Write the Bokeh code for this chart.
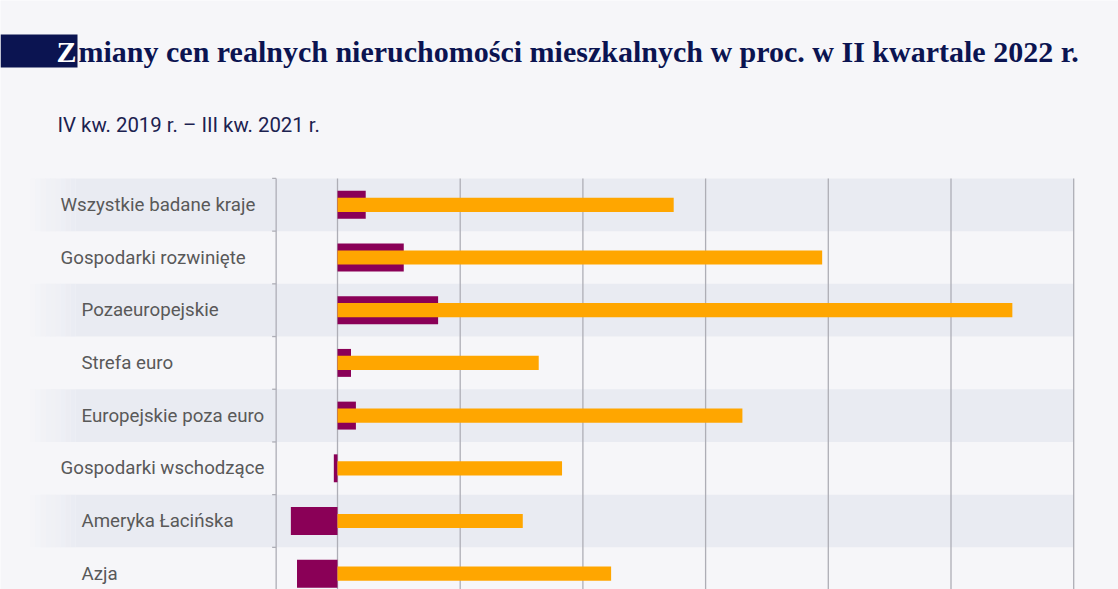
from bokeh.plotting import figure
from bokeh.models import Range1d, ColumnDataSource
from bokeh.core.properties import value
from bokeh.embed import file_html
from bokeh.resources import INLINE

# ---- data ----
categories = [
    "Wszystkie badane kraje",
    "Gospodarki rozwinięte",
    "Pozaeuropejskie",
    "Strefa euro",
    "Europejskie poza euro",
    "Gospodarki wschodzące",
    "Ameryka Łacińska",
    "Azja",
]
indented = [False, False, True, True, True, False, True, True]
q2_2022 = [2.3, 5.4, 8.2, 1.1, 1.5, -0.3, -3.8, -3.3]
q4_2019_q3_2021 = [27.4, 39.5, 55.0, 16.4, 33.0, 18.3, 15.1, 22.3]
grid_ticks = [0, 10, 20, 30, 40, 50, 60]
axis_start = -5
title_first = "Z"
title_rest = "miany cen realnych nieruchomości mieszkalnych w proc. w II kwartale 2022 r."
subtitle = "IV kw. 2019 r. – III kw. 2021 r."

# ---- layout helpers (pixel -> data) ----
W, H = 1118, 589
X0, XS = 337.0, 12.27      # px of zero, px per percent point
Y0, YS = 204.3, 52.7       # px of first row centre, px per row

def px2x(px):
    return (px - X0) / XS

def px2y(py):
    return (py - Y0) / YS

BG = "#f6f6f9"
BAND = "#e9ebf2"
NAVY = "#0b1451"
GRID = "#aeaeb6"
PURPLE = "#8a0057"
ORANGE = "#ffa600"

p = figure(width=W, height=H, output_backend="svg", toolbar_location=None,
           x_range=Range1d(px2x(0), px2x(W)), y_range=Range1d(px2y(H), px2y(0)),
           min_border=0, min_border_left=0, min_border_right=0,
           min_border_top=0, min_border_bottom=0)
p.axis.visible = False
p.grid.visible = False
p.outline_line_color = None
p.background_fill_color = BG
p.border_fill_color = BG

n = len(categories)
rows = list(range(n))
band_rows = [i for i in rows if i % 2 == 0]
x_right = grid_ticks[-1]

# bands (main part)
p.hbar(y=band_rows, left=px2x(75), right=x_right, height=1.0,
       fill_color=BAND, line_color=None)
# soft fade at the left edge of bands
steps = 9
for k in range(steps):
    a = (k + 0.5) / steps
    l = px2x(30 + k * 5)
    r = px2x(30 + (k + 1) * 5)
    p.hbar(y=band_rows, left=l, right=r, height=1.0,
           fill_color=BAND, fill_alpha=a, line_color=None)

top = -0.5
bottom = px2y(H)

# gridlines
p.segment(x0=grid_ticks, x1=grid_ticks, y0=[top] * len(grid_ticks),
          y1=[bottom] * len(grid_ticks), line_color=GRID, line_width=1.3)

# axis line with ticks at row boundaries
p.segment(x0=[axis_start], x1=[axis_start], y0=[top], y1=[bottom],
          line_color=GRID, line_width=1.3)
bounds = [i - 0.5 for i in rows]
p.segment(x0=[axis_start] * n, x1=[axis_start - 4 / XS] * n, y0=bounds, y1=bounds,
          line_color=GRID, line_width=1.3)

# bars
src = ColumnDataSource(dict(y=rows, a=q2_2022, b=q4_2019_q3_2021))
p.hbar(y="y", left=0, right="a", height=0.53, source=src,
       fill_color=PURPLE, line_color=None)
p.hbar(y="y", left=0, right="b", height=0.27, source=src,
       fill_color=ORANGE, line_color=None)

# category labels
lab_x = [px2x(81) if ind else px2x(60) for ind in indented]
p.text(x=lab_x, y=rows, text=categories, text_font=value("Roboto"),
       text_font_size="18.7px", text_color="#595959", text_baseline="middle",
       text_align="left")

# title box
p.quad(left=[px2x(0)], right=[px2x(77)], top=[px2y(34)], bottom=[px2y(67)],
       fill_color=NAVY, line_color=None)
p.text(x=[px2x(56)], y=[px2y(50.5)], text=[title_first],
       text_font=value("Liberation Serif"), text_font_style="bold",
       text_font_size="30px", text_color="white", text_baseline="alphabetic")
p.text(x=[px2x(78)], y=[px2y(50.5)], text=[title_rest],
       text_font=value("Liberation Serif"), text_font_style="bold",
       text_font_size="30px", text_color=NAVY, text_baseline="alphabetic")

# subtitle
p.text(x=[px2x(57)], y=[px2y(124.5)], text=[subtitle], text_font=value("Roboto"),
       text_font_size="20.4px", text_color="#1c2250", text_baseline="alphabetic")

open("out.html", "w").write(file_html(p, INLINE))
